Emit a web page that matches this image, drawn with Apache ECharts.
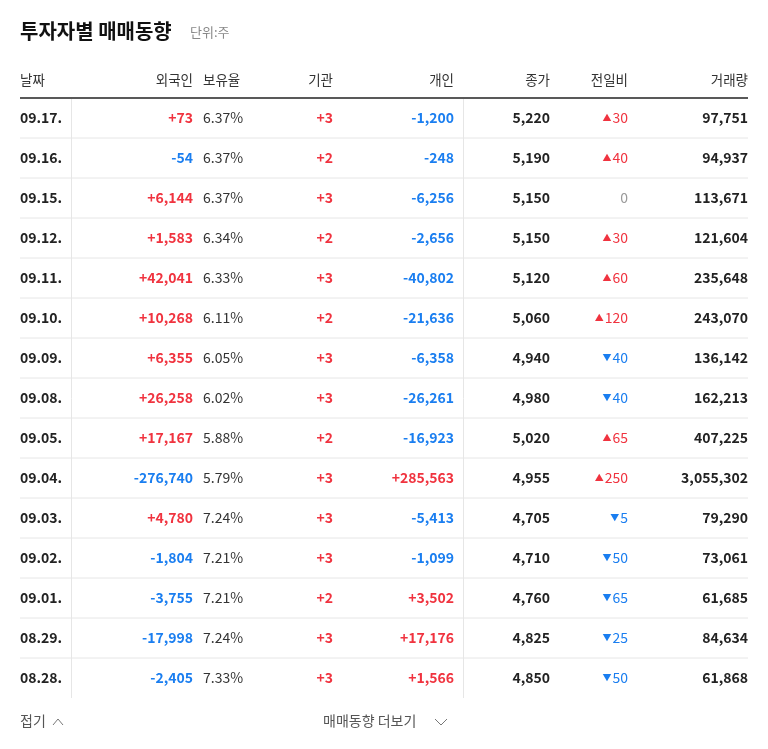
<!DOCTYPE html>
<html>
<head>
<meta charset="UTF-8">
<script src="https://cdn.jsdelivr.net/npm/echarts@6/dist/echarts.min.js"></script>
<style>html,body{margin:0;background:#fff}#main{width:768px;height:749px}</style>
</head>
<body>
<div id="main"></div>
<script>
var dates = ['09.17.','09.16.','09.15.','09.12.','09.11.','09.10.','09.09.','09.08.','09.05.','09.04.','09.03.','09.02.','09.01.','08.29.','08.28.'];
var foreign = [73,-54,6144,1583,42041,10268,6355,26258,17167,-276740,4780,-1804,-3755,-17998,-2405];
var holding = ['6.37%','6.37%','6.37%','6.34%','6.33%','6.11%','6.05%','6.02%','5.88%','5.79%','7.24%','7.21%','7.21%','7.24%','7.33%'];
var institution = [3,2,3,2,3,2,3,3,2,3,3,3,2,3,3];
var individual = [-1200,-248,-6256,-2656,-40802,-21636,-6358,-26261,-16923,285563,-5413,-1099,3502,17176,1566];
var closePrice = [5220,5190,5150,5150,5120,5060,4940,4980,5020,4955,4705,4710,4760,4825,4850];
var change = [30,40,0,30,60,120,-40,-40,65,250,-5,-50,-65,-25,-50];
var volume = [97751,94937,113671,121604,235648,243070,136142,162213,407225,3055302,79290,73061,61685,84634,61868];
var headers = ['날짜','외국인','보유율','기관','개인','종가','전일비','거래량'];

var RED = '#f0333f', BLUE = '#1a7ef0', FONT = '"Noto Sans CJK KR", sans-serif';
function fmt(n) { return Math.abs(n).toLocaleString('en-US'); }
function signed(n) { return n > 0 ? '+' + fmt(n) : n < 0 ? '-' + fmt(n) : '0'; }
function col(n) { return n > 0 ? RED : n < 0 ? BLUE : '#999'; }

var els = [];
function txt(x, y, s, align, color, size, weight, rich) {
  els.push({ type: 'text', x: x, y: y, style: { text: s, align: align, verticalAlign: 'middle',
    fill: color, font: (weight || 'normal') + ' ' + size + 'px ' + FONT, rich: rich } });
}
function line(x1, y1, x2, y2, color, w) {
  els.push({ type: 'line', shape: { x1: x1, y1: y1, x2: x2, y2: y2 }, style: { stroke: color, lineWidth: w } });
}

txt(20, 31, '투자자별 매매동향', 'left', '#111', 20, 'bold');
txt(190, 32, '단위:주', 'left', '#888', 13);

// header
var hx = [20, 193, 203, 333, 454, 550, 628, 748];
var ha = ['left','right','left','right','right','right','right','right'];
headers.forEach(function (h, i) { txt(hx[i], 80, h, ha[i], '#333', 13.5); });
line(20, 98, 748, 98, '#222', 1.5);

var tableTop = 98, rh = 40;
dates.forEach(function (d, i) {
  var y = tableTop + rh * i + rh / 2;
  txt(20, y, d, 'left', '#222', 14, 'bold');
  txt(193, y, signed(foreign[i]), 'right', col(foreign[i]), 14, 'bold');
  txt(203, y, holding[i], 'left', '#333', 14);
  txt(333, y, signed(institution[i]), 'right', col(institution[i]), 14, 'bold');
  txt(454, y, signed(individual[i]), 'right', col(individual[i]), 14, 'bold');
  txt(550, y, fmt(closePrice[i]), 'right', '#222', 14, 'bold');
  var c = change[i];
  var arrow = c > 0 ? '{a|▲}' : c < 0 ? '{a|▼}' : '';
  txt(628, y, arrow + '{n|' + fmt(c) + '}', 'right', col(c), 14, 'normal', {
    a: { fill: col(c), fontSize: 9, fontFamily: FONT, padding: [0, 1, 0, 0] },
    n: { fill: col(c), fontSize: 14, fontFamily: FONT }
  });
  txt(748, y, fmt(volume[i]), 'right', '#222', 14, 'bold');
  if (i < dates.length - 1) line(20, tableTop + rh * (i + 1), 748, tableTop + rh * (i + 1), '#e6e6e6', 1);
});
line(71.5, 99, 71.5, 698, '#e6e6e6', 1);
line(463.5, 99, 463.5, 698, '#e6e6e6', 1);

txt(20, 721, '접기', 'left', '#555', 14);
line(53, 725, 58, 719, '#777', 1); line(58, 719, 63, 725, '#777', 1);
txt(323, 721, '매매동향 더보기', 'left', '#555', 14);
line(435, 719, 441, 725, '#777', 1); line(441, 725, 447, 719, '#777', 1);

var chart = echarts.init(document.getElementById('main'));
chart.setOption({ animation: false, graphic: { elements: els } });
</script>
</body>
</html>
